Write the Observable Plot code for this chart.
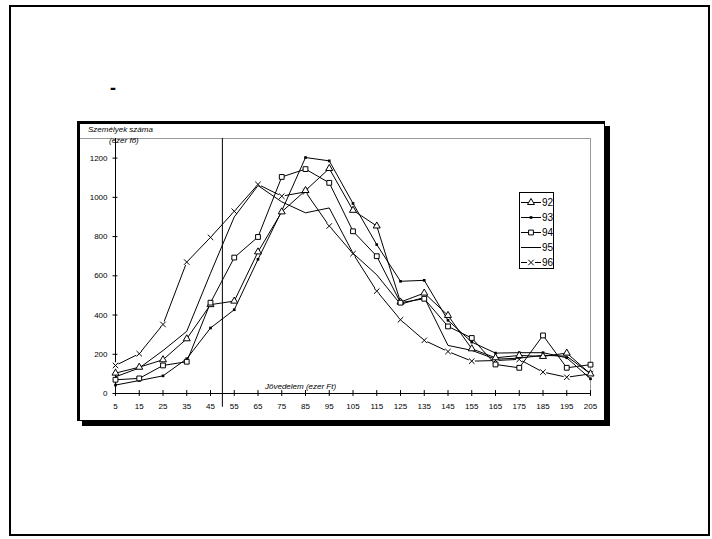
<!DOCTYPE html>
<html><head><meta charset="utf-8">
<script src="https://cdn.jsdelivr.net/npm/d3@7"></script>
<script src="https://cdn.jsdelivr.net/npm/@observablehq/plot@0.6"></script>
<style>
body{margin:0;background:#fff;}
#page{position:relative;width:712px;height:539px;overflow:hidden;font-family:"Liberation Sans",Arial,sans-serif;}
.abs{position:absolute;}
#frame{left:9px;top:5px;width:697px;height:527px;border:2px solid #000;}
#box{left:77px;top:121px;width:524px;height:296px;border-style:solid;border-color:#000;border-width:3px 1px 1px 3px;box-shadow:5px 5px 0 #000;background:#fff;}
#grayext{left:80px;top:138px;width:35px;height:1px;background:#9a9a9a;}
.ital{font-style:italic;font-size:8px;line-height:9px;white-space:nowrap;color:#000;}
#dash{left:110px;top:77px;font-size:18px;font-weight:bold;line-height:22px;}
#chart{left:0;top:0;}
#legend{left:519px;top:192px;width:33px;height:75px;border:1px solid #000;background:#fff;}
</style></head>
<body><div id="page">
<div id="frame" class="abs"></div>
<div id="dash" class="abs">-</div>
<div id="box" class="abs"></div>
<div id="grayext" class="abs"></div>
<div id="chart" class="abs"></div>
<div class="abs ital" style="left:88px;top:125px;">Személyek száma</div>
<div class="abs ital" style="left:109px;top:136px;">(ezer fő)</div>
<div class="abs ital" style="left:265px;top:382px;">Jövedelem (ezer Ft)</div>
<div id="legend" class="abs"></div>
</div>
<script>
const incomes = [5,15,25,35,45,55,65,75,85,95,105,115,125,135,145,155,165,175,185,195,205];
const yTicks = [0,200,400,600,800,1000,1200];
const seriesNames = ["92","93","94","95","96"];
const s92 = [104,134,172,279,453,471,722,926,1035,1147,934,854,466,512,398,228,182,194,189,206,100];
const s93 = [43,66,90,177,334,427,684,931,1203,1186,969,759,572,577,373,262,206,208,208,182,75];
const s94 = [70,77,143,162,463,693,798,1104,1144,1074,827,700,463,483,342,283,148,131,296,131,147];
const s95 = [85,130,219,317,613,900,1060,977,921,946,715,605,455,490,245,220,175,180,195,190,100];
const s96 = [143,203,352,670,796,929,1066,1006,1028,854,713,522,376,271,214,165,168,174,109,83,100];
const refIncome = 50;
const yMax = 1300;

const seriesValues = {"92": s92, "93": s93, "94": s94, "95": s95, "96": s96};
const rows = [];
for (const s of seriesNames) incomes.forEach((x, i) => rows.push({x, y: seriesValues[s][i], s}));
const of = s => rows.filter(d => d.s === s);

const chart = Plot.plot({
  width: 712, height: 539,
  marginLeft: 115, marginRight: 122, marginTop: 138, marginBottom: 146,
  style: {background: "transparent", fontFamily: "'Liberation Sans', Arial, sans-serif", fontSize: "8px", color: "#000"},
  x: {domain: [incomes[0], incomes[incomes.length - 1]]},
  y: {domain: [0, yMax]},
  marks: [
    Plot.ruleY([yMax], {stroke: "#9a9a9a"}),
    Plot.ruleX([incomes[incomes.length - 1]], {stroke: "#9a9a9a", y1: 0, y2: yMax}),
    Plot.ruleX([refIncome], {y1: yMax, y2: -70, stroke: "#000"}),
    Plot.ruleY([0], {stroke: "#000"}),
    Plot.ruleX([incomes[0]], {y1: 0, y2: yMax, stroke: "#000"}),
    Plot.ruleX(incomes, {y1: -15, y2: 15, stroke: "#000"}),
    Plot.ruleY(yTicks, {x1: incomes[0] - 1.05, x2: incomes[0] + 1.05, stroke: "#000"}),
    Plot.axisX({ticks: incomes, tickSize: 0, tickPadding: 10, tickFormat: d => String(d), label: null}),
    Plot.axisY({ticks: yTicks, tickSize: 0, tickPadding: 8, tickFormat: d => String(d), label: null}),
    // series 96
    Plot.line(of("96"), {x: "x", y: "y", stroke: "#000", strokeWidth: 1}),
    Plot.dot(of("96"), {x: "x", y: "y", r: 3.2, fill: "#fff", stroke: "none"}),
    Plot.dot(of("96"), {x: "x", y: "y", symbol: "times", r: 2.6, stroke: "#000", strokeWidth: 1}),
    // other series
    Plot.line(of("95"), {x: "x", y: "y", stroke: "#000", strokeWidth: 1}),
    Plot.line(of("93"), {x: "x", y: "y", stroke: "#000", strokeWidth: 1}),
    Plot.line(of("92"), {x: "x", y: "y", stroke: "#000", strokeWidth: 1}),
    Plot.line(of("94"), {x: "x", y: "y", stroke: "#000", strokeWidth: 1}),
    Plot.dot(of("93"), {x: "x", y: "y", symbol: "square", r: 1.5, fill: "#000", stroke: "none"}),
    Plot.dot(of("92"), {x: "x", y: "y", symbol: "triangle", r: 2.6, fill: "#fff", stroke: "#000", strokeWidth: 1}),
    Plot.dot(of("94"), {x: "x", y: "y", symbol: "square", r: 2.7, fill: "#fff", stroke: "#000", strokeWidth: 1})
  ]
});
document.getElementById("chart").appendChild(chart);

// legend
const legendSymbols = {"92": d3.symbolTriangle, "93": d3.symbolSquare, "94": d3.symbolSquare, "95": null, "96": d3.symbolTimes};
const legendR = {"92": 2.6, "93": 1.5, "94": 2.7, "96": 2.6};
const svg = d3.select("#legend").append("svg").attr("width", 33).attr("height", 75).style("display", "block");
seriesNames.forEach((s, i) => {
  const g = svg.append("g").attr("transform", `translate(0,${9.5 + i * 15})`);
  if (s === "96") {
    g.append("line").attr("x1", 1).attr("x2", 7).attr("stroke", "#000");
    g.append("line").attr("x1", 15).attr("x2", 21).attr("stroke", "#000");
  } else {
    g.append("line").attr("x1", 1).attr("x2", 21).attr("stroke", "#000");
  }
  const sym = legendSymbols[s];
  if (sym) {
    const r = legendR[s];
    g.append("path").attr("transform", "translate(11,0)")
      .attr("d", d3.symbol(sym, r * r * Math.PI)())
      .attr("fill", s === "93" ? "#000" : (s === "96" ? "none" : "#fff"))
      .attr("stroke", s === "93" ? "none" : "#000");
  }
  g.append("text").attr("x", 22).attr("y", 3.6).attr("font-size", 10)
    .attr("font-family", "'Liberation Sans', Arial, sans-serif").text(s);
});
</script>
</body></html>
